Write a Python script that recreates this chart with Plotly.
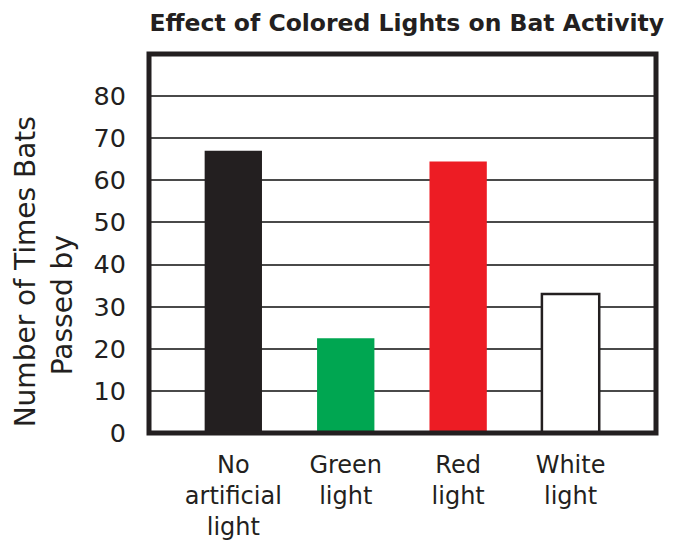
import plotly.graph_objects as go

# Bat passes recorded under each lighting condition
categories = ["No<br>artificial<br>light", "Green<br>light", "Red<br>light", "White<br>light"]
passes = [67, 22.5, 64.5, 33]
bar_colors = ["#231f20", "#00a651", "#ed1c24", "#ffffff"]
outline_widths = [0, 0, 0, 2.5]
y_ticks = [0, 10, 20, 30, 40, 50, 60, 70, 80]

FONT = "DejaVu Sans"
INK = "#231f20"

fig = go.Figure(
    go.Bar(
        x=list(range(len(categories))),
        y=passes,
        width=0.51,
        marker=dict(color=bar_colors, line=dict(color=INK, width=outline_widths)),
    )
)

fig.update_layout(
    width=678,
    height=544,
    margin=dict(l=149, r=21.5, t=53.5, b=111),
    paper_bgcolor="white",
    plot_bgcolor="white",
    showlegend=False,
    font=dict(family=FONT, color=INK),
    title=dict(
        text="<b>Effect of Colored Lights on Bat Activity</b>",
        font=dict(family=FONT, size=23.5, color=INK),
        x=0.6,
        xanchor="center",
        y=0.958,
        yanchor="middle",
    ),
)

fig.update_xaxes(
    range=[-0.75, 3.76],
    tickmode="array",
    tickvals=list(range(len(categories))),
    ticktext=categories,
    tickfont=dict(family=FONT, size=24, color=INK),
    showgrid=False,
    zeroline=False,
    showline=False,
    ticks="",
    ticklabelstandoff=15,
    automargin=False,
)

fig.update_yaxes(
    range=[0, 90],
    tickmode="array",
    tickvals=y_ticks,
    tickfont=dict(family=FONT, size=25.5, color=INK),
    showgrid=True,
    gridcolor="#4a4a4a",
    gridwidth=2,
    zeroline=False,
    showline=False,
    ticks="",
    ticklabelstandoff=22,
    automargin=False,
)

# Heavy frame around the plotting area
fig.add_shape(
    type="rect",
    xref="paper", yref="paper",
    x0=0, x1=1, y0=0, y1=1,
    line=dict(color=INK, width=5),
    layer="above",
)

# Y-axis caption, set as two lines
fig.add_annotation(
    text="Number of Times Bats",
    xref="paper", yref="paper",
    x=(25 - 149) / 507.5, y=(433 - 272) / 379.5,
    xanchor="center", yanchor="middle",
    textangle=-90, showarrow=False,
    font=dict(family=FONT, size=28, color=INK),
)
fig.add_annotation(
    text="Passed by",
    xref="paper", yref="paper",
    x=(62 - 149) / 507.5, y=(433 - 305) / 379.5,
    xanchor="center", yanchor="middle",
    textangle=-90, showarrow=False,
    font=dict(family=FONT, size=28, color=INK),
)

fig.write_html("out.html")
